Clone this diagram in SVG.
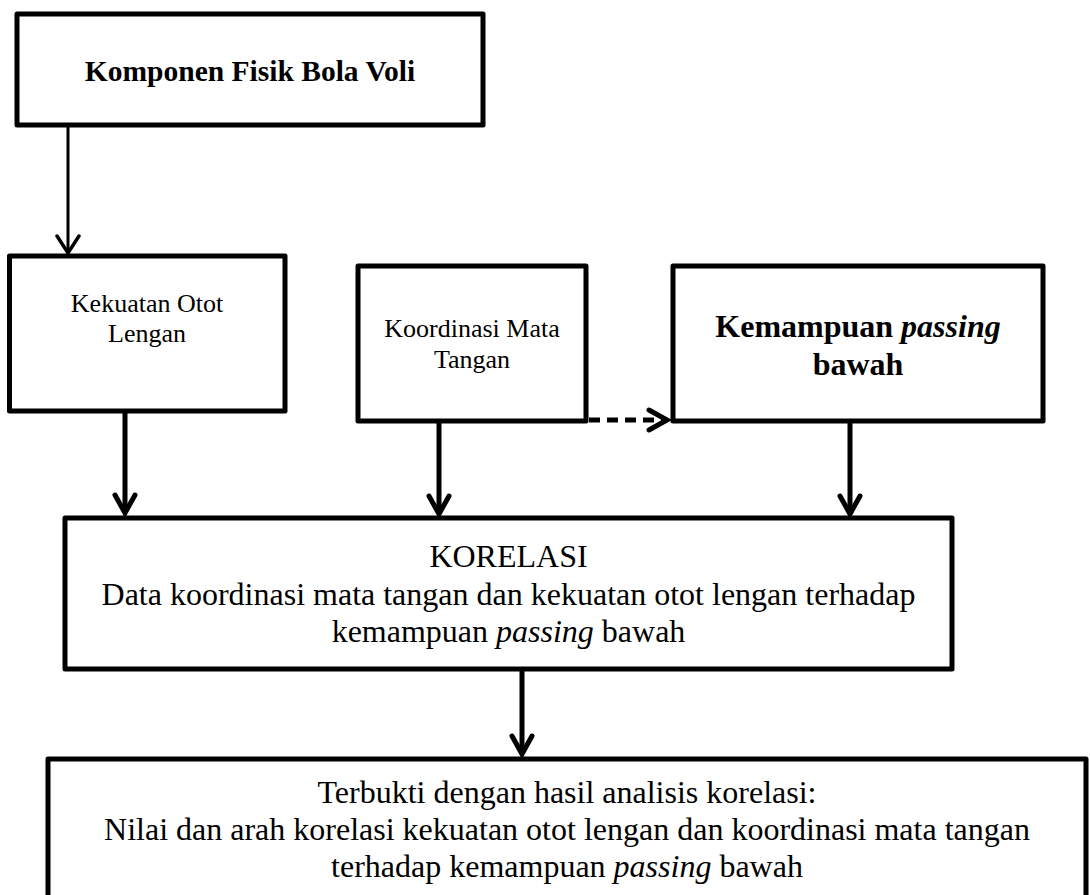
<svg xmlns="http://www.w3.org/2000/svg" width="1090" height="895" viewBox="0 0 1090 895">
<style>
.box{fill:#fff;stroke:#000;stroke-width:5;stroke-linejoin:round}
.t{font-family:"Liberation Serif","Times New Roman",serif;fill:#000;text-anchor:middle}
.s{font-size:26px}
.m{font-size:32px}
.b{font-weight:bold}
.i{font-style:italic}
.c{fill:none;stroke:#000;stroke-width:5}
.thin{stroke-width:3}
.dash{stroke-dasharray:11 7}
</style>
<defs>
<marker id="ah" markerUnits="userSpaceOnUse" viewBox="0 0 30 30" refX="22" refY="15" markerWidth="30" markerHeight="30" orient="auto">
<path d="M4,5 L22,15 L4,25" fill="none" stroke="#000" stroke-width="5" stroke-linecap="round" stroke-linejoin="miter"/>
</marker>
<marker id="ahs" markerUnits="userSpaceOnUse" viewBox="0 0 30 30" refX="22" refY="15" markerWidth="30" markerHeight="30" orient="auto">
<path d="M5,4 L22,15 L5,26" fill="none" stroke="#000" stroke-width="3.5" stroke-linecap="round"/>
</marker>
</defs>
<g id="connectors">
<line class="c thin" x1="68" y1="125" x2="68" y2="253" marker-end="url(#ahs)"/>
<line class="c" x1="125" y1="411" x2="125" y2="513" marker-end="url(#ah)"/>
<line class="c" x1="439" y1="421" x2="439" y2="514" marker-end="url(#ah)"/>
<line class="c" x1="850" y1="421" x2="850" y2="514" marker-end="url(#ah)"/>
<line class="c dash" x1="589" y1="420" x2="667" y2="420" marker-end="url(#ah)"/>
<line class="c" x1="522" y1="669" x2="522" y2="754" marker-end="url(#ah)"/>
</g>
<g id="node-komponen">
<rect class="box" x="17" y="14" width="466" height="111"/>
<text class="t b" x="250" y="81" font-size="29.5">Komponen Fisik Bola Voli</text>
</g>
<g id="node-kekuatan">
<rect class="box" x="9.5" y="256" width="275.5" height="155"/>
<text class="t s" x="147" y="312">Kekuatan Otot</text>
<text class="t s" x="147" y="342">Lengan</text>
</g>
<g id="node-koordinasi">
<rect class="box" x="358" y="266" width="228" height="155"/>
<text class="t s" x="472" y="337">Koordinasi Mata</text>
<text class="t s" x="472" y="368">Tangan</text>
</g>
<g id="node-kemampuan">
<rect class="box" x="673" y="266" width="370" height="155"/>
<text class="t m b" x="858" y="337">Kemampuan <tspan class="i">passing</tspan></text>
<text class="t m b" x="858" y="375">bawah</text>
</g>
<g id="node-korelasi">
<rect class="box" x="65" y="518" width="887" height="151"/>
<text class="t m" x="508.5" y="567">KORELASI</text>
<text class="t m" x="508.5" y="605">Data koordinasi mata tangan dan kekuatan otot lengan terhadap</text>
<text class="t m" x="508.5" y="642">kemampuan <tspan class="i">passing</tspan> bawah</text>
</g>
<g id="node-hasil">
<rect class="box" x="48" y="759" width="1038" height="200"/>
<text class="t m" x="567" y="803">Terbukti dengan hasil analisis korelasi:</text>
<text class="t m" x="567" y="840">Nilai dan arah korelasi kekuatan otot lengan dan koordinasi mata tangan</text>
<text class="t m" x="567" y="877">terhadap kemampuan <tspan class="i">passing</tspan> bawah</text>
</g>
</svg>
